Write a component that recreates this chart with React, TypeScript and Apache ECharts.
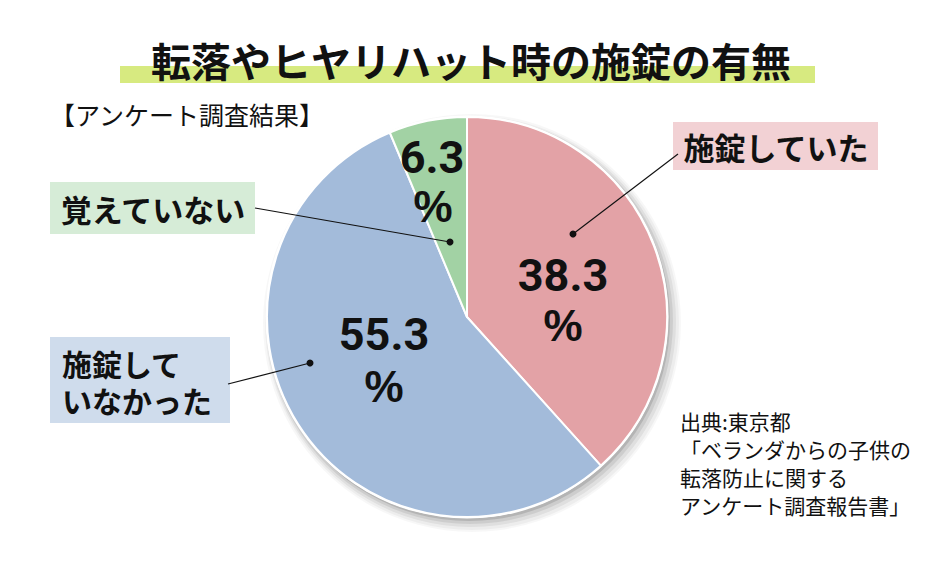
import React, { useEffect, useRef } from "react";
import * as echarts from "echarts";

const title = "転落やヒヤリハット時の施錠の有無";
const subtitle = "【アンケート調査結果】";
const categories = ["施錠していた", "施錠していなかった", "覚えていない"];
const values = [38.3, 55.3, 6.3];
const boxLabels = ["施錠していた", "施錠して\nいなかった", "覚えていない"];
const sliceColors = ["#e3a2a6", "#a3bbda", "#a2d2a4"];
const boxColors = ["#f2d1d4", "#cfdcec", "#d6ecd7"];
const sourceLines = ["出典:東京都", "「ベランダからの子供の", "転落防止に関する", "アンケート調査報告書」"];

const FONT = '"Noto Sans CJK JP", "Noto Sans", sans-serif';
const NUM_FONT = 'Roboto, "Liberation Sans", sans-serif';
const PCT_FONT = '"Liberation Sans", Roboto, sans-serif';

export default function App() {
  const ref = useRef<HTMLDivElement>(null);
  useEffect(() => {
    if (!ref.current) return;
    const chart = echarts.init(ref.current, undefined, { renderer: "svg" });

    const CX = 467;
    const CY = 317;
    const R = 200;

    // layout positions (not data)
    const numPos = [
      [563, 275],
      [384, 334],
      [432, 157],
    ];
    const pctPos = [
      [563, 325],
      [384, 386],
      [433, 206],
    ];
    const boxRects = [
      { x: 673, y: 122, w: 205, h: 48, tx: 776, ty: 146 },
      { x: 50, y: 337, w: 180, h: 86, tx: 62, ty: 381 },
      { x: 50, y: 182, w: 205, h: 52, tx: 153, ty: 208 },
    ];
    const leaders = [
      { from: [678, 154], to: [573, 234] },
      { from: [228, 384], to: [310, 363] },
      { from: [255, 208], to: [450, 242] },
    ];

    const graphics: any[] = [
      {
        type: "rect",
        shape: { x: 120, y: 66, width: 695, height: 17 },
        style: { fill: "#d7ea80" },
        z: 1,
      },
      {
        type: "text",
        x: 471,
        y: 60,
        style: {
          text: title,
          font: `bold 40px ${FONT}`,
          fill: "#111",
          textAlign: "center",
          textVerticalAlign: "middle",
        },
        z: 2,
      },
      {
        type: "text",
        x: 50,
        y: 114,
        style: {
          text: subtitle,
          font: `normal 25px ${FONT}`,
          fill: "#111",
          textAlign: "left",
          textVerticalAlign: "middle",
        },
        z: 2,
      },
      {
        type: "text",
        x: 680,
        y: 407,
        style: {
          text: sourceLines.join("\n"),
          font: `normal 21px ${FONT}`,
          lineHeight: 28,
          fill: "#111",
          textAlign: "left",
          textVerticalAlign: "top",
        },
        z: 2,
      },
    ];

    // soft shadow behind the pie (lower right)
    const shadowLayers = [
      { r: R + 9, dx: 5, dy: 6, a: 0.03 },
      { r: R + 7, dx: 5, dy: 6, a: 0.04 },
      { r: R + 5, dx: 4, dy: 5, a: 0.06 },
      { r: R + 3, dx: 3, dy: 4, a: 0.08 },
      { r: R + 1, dx: 2, dy: 3, a: 0.12 },
    ];
    shadowLayers.forEach((s) => {
      graphics.push({
        type: "circle",
        shape: { cx: CX + s.dx, cy: CY + s.dy, r: s.r },
        style: { fill: `rgba(0,0,0,${s.a})` },
        z: 0,
      });
    });
    graphics.push({
      type: "circle",
      shape: { cx: CX, cy: CY, r: R + 1.5 },
      style: { fill: "#ffffff" },
      z: 0.5,
    });

    values.forEach((v, i) => {
      const b = boxRects[i];
      graphics.push({
        type: "rect",
        shape: { x: b.x, y: b.y, width: b.w, height: b.h },
        style: { fill: boxColors[i] },
        z: 5,
      });
      graphics.push({
        type: "text",
        x: b.tx,
        y: b.ty,
        style: {
          text: boxLabels[i],
          font: `bold ${i === 1 ? 30 : 31}px ${FONT}`,
          lineHeight: 37,
          fill: "#111",
          textAlign: i === 1 ? "left" : "center",
          textVerticalAlign: "middle",
        },
        z: 6,
      });
      const l = leaders[i];
      graphics.push({
        type: "line",
        shape: { x1: l.from[0], y1: l.from[1], x2: l.to[0], y2: l.to[1] },
        style: { stroke: "#111", lineWidth: 1.2 },
        z: 20,
      });
      graphics.push({
        type: "circle",
        shape: { cx: l.to[0], cy: l.to[1], r: 3.5 },
        style: { fill: "#111" },
        z: 21,
      });
      graphics.push({
        type: "text",
        x: numPos[i][0],
        y: numPos[i][1],
        style: {
          text: v.toFixed(1),
          font: `bold 45px ${NUM_FONT}`,
          fill: "#111",
          textAlign: "center",
          textVerticalAlign: "middle",
        },
        z: 22,
      });
      graphics.push({
        type: "text",
        x: pctPos[i][0],
        y: pctPos[i][1],
        style: {
          text: "%",
          font: `bold 44px ${PCT_FONT}`,
          fill: "#111",
          textAlign: "center",
          textVerticalAlign: "middle",
        },
        z: 22,
      });
    });

    chart.setOption({
      animation: false,
      backgroundColor: "#ffffff",
      series: [
        {
          type: "pie",
          center: [CX, CY],
          radius: R,
          startAngle: 90,
          clockwise: true,
          label: { show: false },
          labelLine: { show: false },
          emphasis: { disabled: true },
          itemStyle: {
            borderColor: "#ffffff",
            borderWidth: 2,
          },
          data: categories.map((c, i) => ({
            name: c,
            value: values[i],
            itemStyle: { color: sliceColors[i] },
          })),
          z: 3,
        },
      ],
      graphic: graphics,
    });
    return () => chart.dispose();
  }, []);
  return (
    <div
      ref={ref}
      style={{ position: "fixed", left: 0, top: 0, width: 934, height: 566 }}
    />
  );
}
